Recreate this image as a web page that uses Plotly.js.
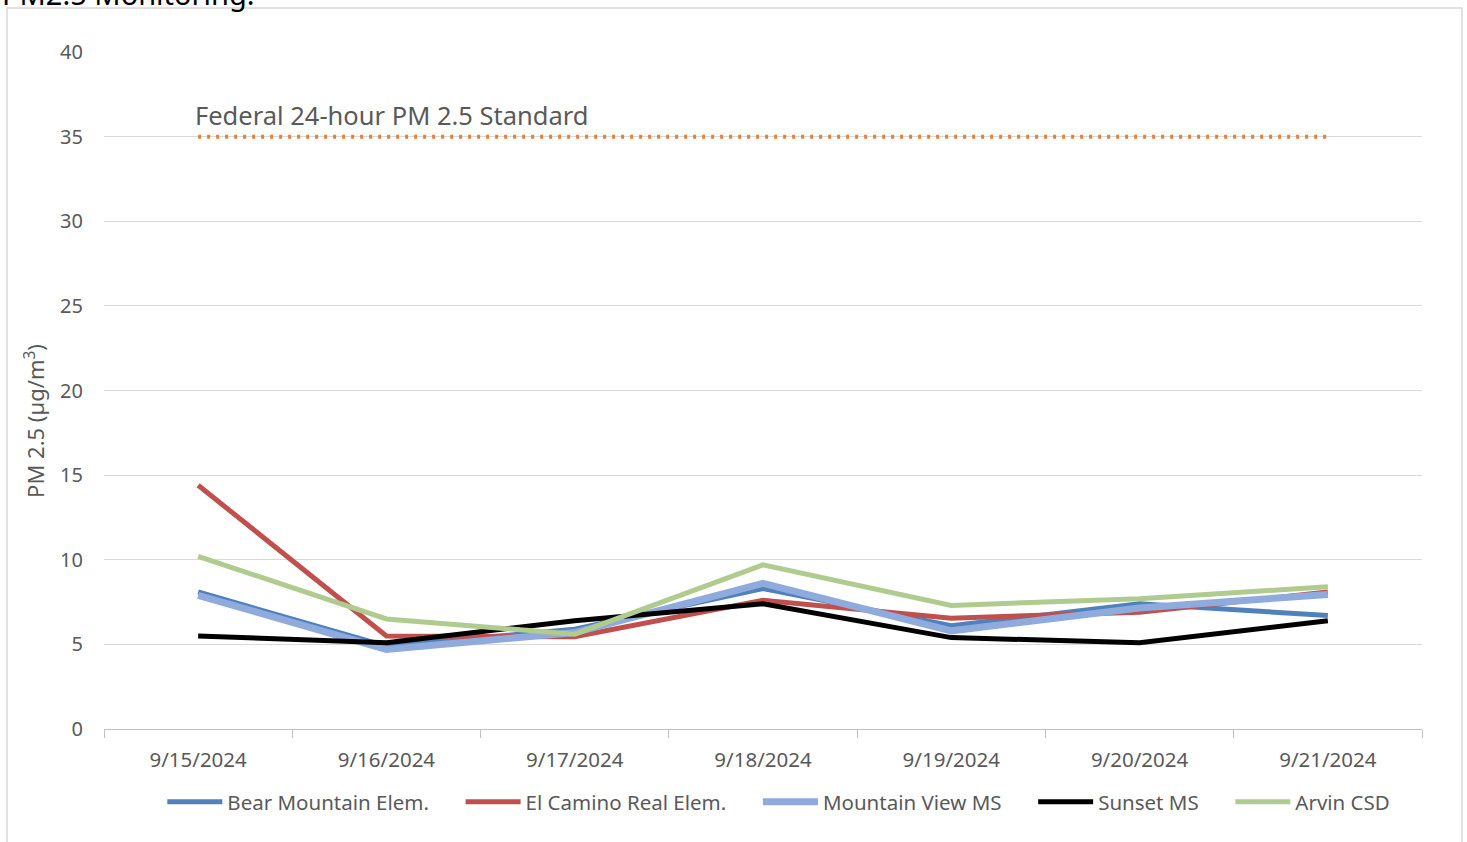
<!DOCTYPE html>
<html><head><meta charset="utf-8">
<script src="https://cdn.plot.ly/plotly-3.0.1.min.js"></script>
<style>html,body{margin:0;padding:0;background:#fff;}#chart{width:1467px;height:842px;}</style>
</head><body><div id="chart"></div>
<script>
const dates = ["9/15/2024","9/16/2024","9/17/2024","9/18/2024","9/19/2024","9/20/2024","9/21/2024"];
const bearMountain = [8.1, 4.9, 5.9, 8.3, 6.1, 7.4, 6.7];
const elCamino = [14.4, 5.5, 5.45, 7.6, 6.55, 6.9, 8.1];
const mountainView = [7.9, 4.7, 5.7, 8.6, 5.8, 7.15, 7.95];
const sunset = [5.5, 5.1, 6.4, 7.4, 5.4, 5.1, 6.4];
const arvin = [10.2, 6.5, 5.6, 9.7, 7.3, 7.7, 8.4];
const standard = [35, 35, 35, 35, 35, 35, 35];
const seriesNames = ["Bear Mountain Elem.","El Camino Real Elem.","Mountain View MS","Sunset MS","Arvin CSD"];
const standardLabel = "Federal 24-hour PM 2.5 Standard";
const titleText = "PM2.5 Monitoring:";
const yTitle = "PM 2.5 (µg/m<sup>3</sup>)";

const colors = ["#4F81BD","#C0504D","#8FAADC","#000000","#B0CB8E"];
const widths = [5,5,7,5,5];
const data = [bearMountain, elCamino, mountainView, sunset, arvin];
const pad = "\u00a0\u00a0\u00a0\u00a0\u00a0";

const traces = [{
  x: dates, y: standard, type: "scatter", mode: "lines", showlegend: false,
  line: {color: "#ED7D31", width: 4, dash: "3px,6px"}, hoverinfo: "skip"
}];
data.forEach((d,i)=>traces.push({
  x: dates, y: d, type: "scatter", mode: "lines",
  name: seriesNames[i] + (i < data.length - 1 ? pad : ""),
  line: {color: colors[i], width: widths[i]}
}));

const F = "Noto Sans, Liberation Sans, sans-serif";
const layout = {
  width: 1467, height: 842,
  margin: {l: 104, r: 45, t: 52, b: 113},
  paper_bgcolor: "#fff", plot_bgcolor: "#fff",
  font: {family: F, color: "#595959", size: 20},
  xaxis: {
    type: "category", range: [-0.5, 6.5], showgrid: false,
    showline: true, linecolor: "#BFBFBF", linewidth: 1,
    ticks: "outside", tickson: "boundaries", ticklen: 8, tickcolor: "#BFBFBF",
    tickfont: {size: 20.5, color: "#595959"}, zeroline: false, ticklabelstandoff: 12
  },
  yaxis: {
    range: [0, 40], dtick: 5, showgrid: true, gridcolor: "#D9D9D9", gridwidth: 1,
    zeroline: false, showline: false, ticks: "", ticklen: 0,
    tickfont: {size: 20, color: "#595959"}, ticklabelstandoff: 20
  },
  legend: {
    orientation: "h", x: 0.512, xanchor: "center", y: -0.078, yanchor: "top",
    font: {size: 20.5, color: "#595959"}, itemwidth: 55, tracegroupgap: 0,
    traceorder: "normal"
  },
  annotations: [
    {text: standardLabel, xref: "paper", yref: "y", x: 0.0675, y: 36.27, xanchor: "left", yanchor: "middle",
     showarrow: false, font: {size: 25.5, color: "#595959"}},
    {text: yTitle, xref: "paper", yref: "paper", x: -0.0524, y: 0.455, xanchor: "center", yanchor: "middle",
     textangle: -90, showarrow: false, font: {size: 22, color: "#595959"}},
    {text: titleText, xref: "paper", yref: "paper", x: -0.079, y: 1.055, xanchor: "left", yanchor: "bottom",
     showarrow: false, font: {size: 29, color: "#000"}}
  ],
  shapes: [
    {type: "rect", xref: "paper", yref: "paper", x0: -0.0736, x1: 1.0303, y0: -0.3, y1: 1.065,
     line: {color: "#D9D9D9", width: 1.5}, fillcolor: "rgba(0,0,0,0)", layer: "below"}
  ]
};
Plotly.newPlot("chart", traces, layout, {displayModeBar: false, staticPlot: true});
</script></body></html>
